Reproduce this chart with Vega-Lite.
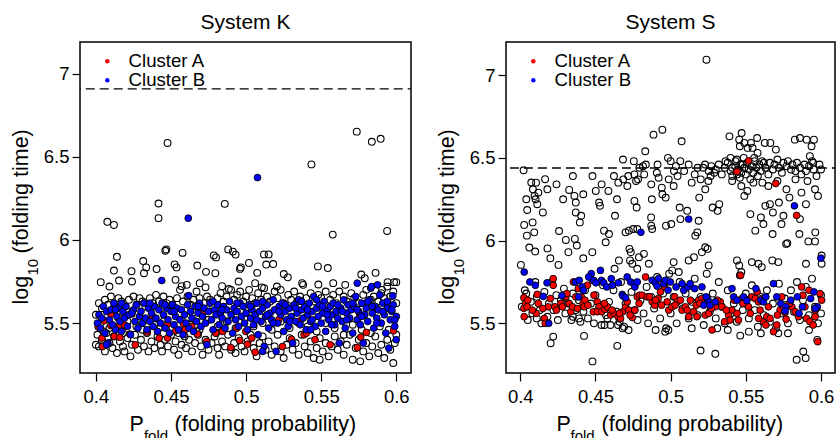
{
"$schema":"https://vega.github.io/schema/vega-lite/v6.json",
"padding":{"left":9,"top":11,"right":0,"bottom":0},
"config":{"font":"Liberation Sans","view":{"stroke":"black","strokeWidth":1.5},
"axis":{"grid":false,"domain":false,"labelColor":"black","tickColor":"black","titleColor":"black","titleFontWeight":"normal","labelFontSize":18.5,"titleFontSize":21.5,"tickSize":8,"tickWidth":1.2},
"title":{"fontSize":21,"fontWeight":"normal","color":"black"}},
"bounds":"flush",
"spacing":95,
"resolve":{"scale":{"x":"independent","y":"independent","fill":"independent"},"legend":{"fill":"independent"}},
"datasets":{
"K":[
{"x":0.400,"y":5.37,"c":"O"},{"x":0.401,"y":5.43,"c":"O"},{"x":0.402,"y":5.36,"c":"O"},{"x":0.404,"y":5.40,"c":"O"},{"x":0.406,"y":5.33,"c":"O"},{"x":0.407,"y":5.44,"c":"O"},{"x":0.409,"y":5.38,"c":"O"},{"x":0.411,"y":5.35,"c":"O"},{"x":0.412,"y":5.42,"c":"O"},{"x":0.414,"y":5.32,"c":"O"},
{"x":0.416,"y":5.39,"c":"O"},{"x":0.418,"y":5.36,"c":"O"},{"x":0.419,"y":5.33,"c":"O"},{"x":0.421,"y":5.41,"c":"O"},{"x":0.423,"y":5.30,"c":"O"},{"x":0.424,"y":5.37,"c":"O"},{"x":0.426,"y":5.43,"c":"O"},{"x":0.428,"y":5.34,"c":"O"},{"x":0.430,"y":5.40,"c":"O"},{"x":0.432,"y":5.36,"c":"O"},
{"x":0.434,"y":5.44,"c":"O"},{"x":0.435,"y":5.33,"c":"O"},{"x":0.437,"y":5.39,"c":"O"},{"x":0.439,"y":5.35,"c":"O"},{"x":0.441,"y":5.42,"c":"O"},{"x":0.443,"y":5.37,"c":"O"},{"x":0.444,"y":5.33,"c":"O"},{"x":0.446,"y":5.40,"c":"O"},{"x":0.448,"y":5.36,"c":"O"},{"x":0.450,"y":5.43,"c":"O"},
{"x":0.452,"y":5.34,"c":"O"},{"x":0.453,"y":5.39,"c":"O"},{"x":0.455,"y":5.31,"c":"O"},{"x":0.457,"y":5.37,"c":"O"},{"x":0.459,"y":5.42,"c":"O"},{"x":0.460,"y":5.35,"c":"O"},{"x":0.462,"y":5.40,"c":"O"},{"x":0.464,"y":5.33,"c":"O"},{"x":0.466,"y":5.38,"c":"O"},{"x":0.468,"y":5.43,"c":"O"},
{"x":0.470,"y":5.36,"c":"O"},{"x":0.471,"y":5.31,"c":"O"},{"x":0.473,"y":5.40,"c":"O"},{"x":0.475,"y":5.34,"c":"O"},{"x":0.477,"y":5.38,"c":"O"},{"x":0.479,"y":5.42,"c":"O"},{"x":0.481,"y":5.35,"c":"O"},{"x":0.482,"y":5.31,"c":"O"},{"x":0.484,"y":5.39,"c":"O"},{"x":0.486,"y":5.36,"c":"O"},
{"x":0.488,"y":5.43,"c":"O"},{"x":0.490,"y":5.34,"c":"O"},{"x":0.492,"y":5.38,"c":"O"},{"x":0.493,"y":5.32,"c":"O"},{"x":0.495,"y":5.41,"c":"O"},{"x":0.497,"y":5.36,"c":"O"},{"x":0.499,"y":5.33,"c":"O"},{"x":0.501,"y":5.39,"c":"O"},{"x":0.503,"y":5.43,"c":"O"},{"x":0.505,"y":5.35,"c":"O"},
{"x":0.507,"y":5.30,"c":"O"},{"x":0.509,"y":5.38,"c":"O"},{"x":0.511,"y":5.42,"c":"O"},{"x":0.513,"y":5.34,"c":"O"},{"x":0.515,"y":5.39,"c":"O"},{"x":0.517,"y":5.31,"c":"O"},{"x":0.519,"y":5.36,"c":"O"},{"x":0.521,"y":5.43,"c":"O"},{"x":0.523,"y":5.33,"c":"O"},{"x":0.525,"y":5.29,"c":"O"},
{"x":0.527,"y":5.37,"c":"O"},{"x":0.529,"y":5.41,"c":"O"},{"x":0.531,"y":5.34,"c":"O"},{"x":0.533,"y":5.38,"c":"O"},{"x":0.535,"y":5.31,"c":"O"},{"x":0.537,"y":5.43,"c":"O"},{"x":0.539,"y":5.36,"c":"O"},{"x":0.541,"y":5.32,"c":"O"},{"x":0.543,"y":5.39,"c":"O"},{"x":0.545,"y":5.29,"c":"O"},
{"x":0.547,"y":5.35,"c":"O"},{"x":0.549,"y":5.41,"c":"O"},{"x":0.551,"y":5.33,"c":"O"},{"x":0.553,"y":5.38,"c":"O"},{"x":0.555,"y":5.30,"c":"O"},{"x":0.557,"y":5.36,"c":"O"},{"x":0.559,"y":5.42,"c":"O"},{"x":0.561,"y":5.34,"c":"O"},{"x":0.563,"y":5.39,"c":"O"},{"x":0.565,"y":5.31,"c":"O"},
{"x":0.567,"y":5.37,"c":"O"},{"x":0.569,"y":5.43,"c":"O"},{"x":0.571,"y":5.28,"c":"O"},{"x":0.573,"y":5.35,"c":"O"},{"x":0.575,"y":5.40,"c":"O"},{"x":0.576,"y":5.27,"c":"O"},{"x":0.578,"y":5.33,"c":"O"},{"x":0.580,"y":5.38,"c":"O"},{"x":0.582,"y":5.30,"c":"O"},{"x":0.584,"y":5.36,"c":"O"},
{"x":0.586,"y":5.42,"c":"O"},{"x":0.588,"y":5.32,"c":"O"},{"x":0.590,"y":5.37,"c":"O"},{"x":0.592,"y":5.29,"c":"O"},{"x":0.594,"y":5.40,"c":"O"},{"x":0.596,"y":5.34,"c":"O"},{"x":0.598,"y":5.26,"c":"O"},{"x":0.599,"y":5.38,"c":"O"},{"x":0.600,"y":5.43,"c":"O"},{"x":0.549,"y":5.28,"c":"O"},
{"x":0.400,"y":5.55,"c":"O"},{"x":0.402,"y":5.62,"c":"O"},{"x":0.404,"y":5.59,"c":"O"},{"x":0.406,"y":5.64,"c":"O"},{"x":0.408,"y":5.61,"c":"O"},{"x":0.410,"y":5.66,"c":"O"},{"x":0.413,"y":5.60,"c":"O"},{"x":0.415,"y":5.65,"c":"O"},{"x":0.417,"y":5.63,"c":"O"},{"x":0.420,"y":5.58,"c":"O"},
{"x":0.422,"y":5.64,"c":"O"},{"x":0.425,"y":5.66,"c":"O"},{"x":0.427,"y":5.61,"c":"O"},{"x":0.429,"y":5.65,"c":"O"},{"x":0.431,"y":5.63,"c":"O"},{"x":0.433,"y":5.60,"c":"O"},{"x":0.436,"y":5.65,"c":"O"},{"x":0.438,"y":5.62,"c":"O"},{"x":0.440,"y":5.67,"c":"O"},{"x":0.442,"y":5.63,"c":"O"},
{"x":0.445,"y":5.66,"c":"O"},{"x":0.447,"y":5.62,"c":"O"},{"x":0.449,"y":5.64,"c":"O"},{"x":0.451,"y":5.61,"c":"O"},{"x":0.454,"y":5.65,"c":"O"},{"x":0.456,"y":5.70,"c":"O"},{"x":0.458,"y":5.63,"c":"O"},{"x":0.461,"y":5.66,"c":"O"},{"x":0.463,"y":5.61,"c":"O"},{"x":0.465,"y":5.64,"c":"O"},
{"x":0.467,"y":5.69,"c":"O"},{"x":0.469,"y":5.65,"c":"O"},{"x":0.472,"y":5.62,"c":"O"},{"x":0.474,"y":5.66,"c":"O"},{"x":0.476,"y":5.64,"c":"O"},{"x":0.478,"y":5.60,"c":"O"},{"x":0.481,"y":5.65,"c":"O"},{"x":0.483,"y":5.68,"c":"O"},{"x":0.485,"y":5.63,"c":"O"},{"x":0.487,"y":5.66,"c":"O"},
{"x":0.490,"y":5.70,"c":"O"},{"x":0.492,"y":5.64,"c":"O"},{"x":0.494,"y":5.67,"c":"O"},{"x":0.496,"y":5.69,"c":"O"},{"x":0.498,"y":5.63,"c":"O"},{"x":0.500,"y":5.66,"c":"O"},{"x":0.502,"y":5.70,"c":"O"},{"x":0.504,"y":5.65,"c":"O"},{"x":0.506,"y":5.62,"c":"O"},{"x":0.508,"y":5.68,"c":"O"},
{"x":0.510,"y":5.64,"c":"O"},{"x":0.512,"y":5.71,"c":"O"},{"x":0.514,"y":5.66,"c":"O"},{"x":0.516,"y":5.63,"c":"O"},{"x":0.519,"y":5.69,"c":"O"},{"x":0.521,"y":5.65,"c":"O"},{"x":0.523,"y":5.70,"c":"O"},{"x":0.525,"y":5.62,"c":"O"},{"x":0.528,"y":5.67,"c":"O"},{"x":0.530,"y":5.64,"c":"O"},
{"x":0.532,"y":5.69,"c":"O"},{"x":0.534,"y":5.63,"c":"O"},{"x":0.536,"y":5.66,"c":"O"},{"x":0.538,"y":5.73,"c":"O"},{"x":0.540,"y":5.65,"c":"O"},{"x":0.543,"y":5.68,"c":"O"},{"x":0.546,"y":5.63,"c":"O"},{"x":0.548,"y":5.67,"c":"O"},{"x":0.550,"y":5.65,"c":"O"},{"x":0.553,"y":5.69,"c":"O"},
{"x":0.556,"y":5.64,"c":"O"},{"x":0.558,"y":5.67,"c":"O"},{"x":0.560,"y":5.62,"c":"O"},{"x":0.562,"y":5.69,"c":"O"},{"x":0.565,"y":5.66,"c":"O"},{"x":0.567,"y":5.63,"c":"O"},{"x":0.570,"y":5.68,"c":"O"},{"x":0.572,"y":5.65,"c":"O"},{"x":0.575,"y":5.62,"c":"O"},{"x":0.578,"y":5.67,"c":"O"},
{"x":0.580,"y":5.70,"c":"O"},{"x":0.583,"y":5.64,"c":"O"},{"x":0.585,"y":5.66,"c":"O"},{"x":0.588,"y":5.63,"c":"O"},{"x":0.590,"y":5.68,"c":"O"},{"x":0.592,"y":5.65,"c":"O"},{"x":0.594,"y":5.72,"c":"O"},{"x":0.596,"y":5.66,"c":"O"},{"x":0.598,"y":5.69,"c":"O"},{"x":0.600,"y":5.62,"c":"O"},
{"x":0.403,"y":5.50,"c":"O"},{"x":0.409,"y":5.47,"c":"O"},{"x":0.415,"y":5.53,"c":"O"},{"x":0.421,"y":5.51,"c":"O"},{"x":0.427,"y":5.48,"c":"O"},{"x":0.433,"y":5.52,"c":"O"},{"x":0.439,"y":5.49,"c":"O"},{"x":0.445,"y":5.51,"c":"O"},{"x":0.451,"y":5.47,"c":"O"},{"x":0.457,"y":5.52,"c":"O"},
{"x":0.463,"y":5.49,"c":"O"},{"x":0.469,"y":5.46,"c":"O"},{"x":0.475,"y":5.52,"c":"O"},{"x":0.481,"y":5.48,"c":"O"},{"x":0.487,"y":5.51,"c":"O"},{"x":0.493,"y":5.47,"c":"O"},{"x":0.499,"y":5.53,"c":"O"},{"x":0.505,"y":5.48,"c":"O"},{"x":0.511,"y":5.50,"c":"O"},{"x":0.517,"y":5.46,"c":"O"},
{"x":0.523,"y":5.51,"c":"O"},{"x":0.529,"y":5.47,"c":"O"},{"x":0.535,"y":5.50,"c":"O"},{"x":0.541,"y":5.48,"c":"O"},{"x":0.547,"y":5.45,"c":"O"},{"x":0.553,"y":5.50,"c":"O"},{"x":0.559,"y":5.47,"c":"O"},{"x":0.565,"y":5.43,"c":"O"},{"x":0.571,"y":5.49,"c":"O"},{"x":0.577,"y":5.46,"c":"O"},
{"x":0.583,"y":5.44,"c":"O"},{"x":0.589,"y":5.48,"c":"O"},{"x":0.595,"y":5.46,"c":"O"},{"x":0.405,"y":5.45,"c":"O"},{"x":0.418,"y":5.44,"c":"O"},{"x":0.431,"y":5.46,"c":"O"},{"x":0.442,"y":5.47,"c":"O"},{"x":0.455,"y":5.44,"c":"O"},{"x":0.467,"y":5.45,"c":"O"},{"x":0.480,"y":5.44,"c":"O"},
{"x":0.4477,"y":6.583,"c":"O"},{"x":0.5737,"y":6.651,"c":"O"},{"x":0.5837,"y":6.590,"c":"O"},{"x":0.5896,"y":6.608,"c":"O"},{"x":0.5435,"y":6.454,"c":"O"},{"x":0.4417,"y":6.219,"c":"O"},{"x":0.4858,"y":6.217,"c":"O"},{"x":0.4417,"y":6.131,"c":"O"},{"x":0.4076,"y":6.109,"c":"O"},{"x":0.4120,"y":6.090,"c":"O"},
{"x":0.5939,"y":6.054,"c":"O"},{"x":0.5577,"y":6.032,"c":"O"},{"x":0.4469,"y":5.943,"c":"O"},{"x":0.4462,"y":5.935,"c":"O"},{"x":0.4577,"y":5.922,"c":"O"},{"x":0.4140,"y":5.899,"c":"O"},{"x":0.4785,"y":5.907,"c":"O"},{"x":0.4800,"y":5.895,"c":"O"},{"x":0.4881,"y":5.943,"c":"O"},{"x":0.4912,"y":5.930,"c":"O"},
{"x":0.4930,"y":5.912,"c":"O"},{"x":0.5119,"y":5.913,"c":"O"},{"x":0.5150,"y":5.913,"c":"O"},{"x":0.4959,"y":5.826,"c":"O"},{"x":0.4965,"y":5.835,"c":"O"},{"x":0.5019,"y":5.862,"c":"O"},{"x":0.5074,"y":5.802,"c":"O"},{"x":0.5134,"y":5.852,"c":"O"},{"x":0.5180,"y":5.855,"c":"O"},{"x":0.5251,"y":5.795,"c":"O"},
{"x":0.4120,"y":5.816,"c":"O"},{"x":0.4237,"y":5.812,"c":"O"},{"x":0.4315,"y":5.873,"c":"O"},{"x":0.4335,"y":5.835,"c":"O"},{"x":0.4404,"y":5.825,"c":"O"},{"x":0.4524,"y":5.853,"c":"O"},{"x":0.4537,"y":5.835,"c":"O"},{"x":0.4675,"y":5.846,"c":"O"},{"x":0.4733,"y":5.808,"c":"O"},{"x":0.4795,"y":5.800,"c":"O"},
{"x":0.4032,"y":5.746,"c":"O"},{"x":0.4154,"y":5.756,"c":"O"},{"x":0.4320,"y":5.800,"c":"O"},{"x":0.5478,"y":5.841,"c":"O"},{"x":0.5544,"y":5.831,"c":"O"},{"x":0.5862,"y":5.802,"c":"O"},{"x":0.5767,"y":5.792,"c":"O"},{"x":0.5942,"y":5.746,"c":"O"},{"x":0.5985,"y":5.746,"c":"O"},{"x":0.6000,"y":5.746,"c":"O"},
{"x":0.5278,"y":5.775,"c":"O"},{"x":0.5373,"y":5.740,"c":"O"},{"x":0.5481,"y":5.732,"c":"O"},{"x":0.5580,"y":5.740,"c":"O"},{"x":0.4571,"y":5.722,"c":"O"},{"x":0.4605,"y":5.730,"c":"O"},{"x":0.4730,"y":5.715,"c":"O"},{"x":0.4950,"y":5.750,"c":"O"},{"x":0.5060,"y":5.740,"c":"O"},{"x":0.5105,"y":5.715,"c":"O"},
{"x":0.4691,"y":5.740,"c":"O"},{"x":0.4840,"y":5.722,"c":"O"},{"x":0.4885,"y":5.705,"c":"O"},{"x":0.4530,"y":5.760,"c":"O"},{"x":0.4240,"y":5.750,"c":"O"},{"x":0.4090,"y":5.720,"c":"O"},{"x":0.5205,"y":5.720,"c":"O"},{"x":0.5660,"y":5.730,"c":"O"},{"x":0.5790,"y":5.770,"c":"O"},{"x":0.5905,"y":5.700,"c":"O"},
{"x":0.4015,"y":5.477,"c":"A"},{"x":0.4040,"y":5.41,"c":"A"},{"x":0.4044,"y":5.359,"c":"A"},{"x":0.4055,"y":5.514,"c":"A"},{"x":0.4099,"y":5.555,"c":"A"},{"x":0.4099,"y":5.485,"c":"A"},{"x":0.4121,"y":5.42,"c":"A"},{"x":0.4159,"y":5.49,"c":"A"},{"x":0.4159,"y":5.415,"c":"A"},{"x":0.4192,"y":5.488,"c":"A"},
{"x":0.4226,"y":5.434,"c":"A"},{"x":0.4239,"y":5.555,"c":"A"},{"x":0.4262,"y":5.369,"c":"A"},{"x":0.4341,"y":5.446,"c":"A"},{"x":0.4377,"y":5.541,"c":"A"},{"x":0.4421,"y":5.41,"c":"A"},{"x":0.4477,"y":5.495,"c":"A"},{"x":0.4477,"y":5.41,"c":"A"},{"x":0.4532,"y":5.454,"c":"A"},{"x":0.4583,"y":5.495,"c":"A"},
{"x":0.4594,"y":5.46,"c":"A"},{"x":0.4638,"y":5.48,"c":"A"},{"x":0.4676,"y":5.434,"c":"A"},{"x":0.4716,"y":5.571,"c":"A"},{"x":0.4738,"y":5.39,"c":"A"},{"x":0.4798,"y":5.44,"c":"A"},{"x":0.4843,"y":5.45,"c":"A"},{"x":0.4898,"y":5.353,"c":"A"},{"x":0.4938,"y":5.47,"c":"A"},{"x":0.4958,"y":5.396,"c":"A"},
{"x":0.4998,"y":5.45,"c":"A"},{"x":0.5009,"y":5.373,"c":"A"},{"x":0.5038,"y":5.41,"c":"A"},{"x":0.5060,"y":5.325,"c":"A"},{"x":0.5218,"y":5.521,"c":"A"},{"x":0.5242,"y":5.359,"c":"A"},{"x":0.5302,"y":5.403,"c":"A"},{"x":0.5360,"y":5.514,"c":"A"},{"x":0.5386,"y":5.43,"c":"A"},{"x":0.5402,"y":5.44,"c":"A"},
{"x":0.5459,"y":5.40,"c":"A"},{"x":0.5559,"y":5.37,"c":"A"},{"x":0.5757,"y":5.551,"c":"A"},{"x":0.5763,"y":5.415,"c":"A"},{"x":0.5741,"y":5.353,"c":"A"},{"x":0.5801,"y":5.444,"c":"A"},{"x":0.5981,"y":5.454,"c":"A"},
{"x":0.401,"y":5.50,"c":"B"},{"x":0.402,"y":5.55,"c":"B"},{"x":0.403,"y":5.47,"c":"B"},{"x":0.404,"y":5.53,"c":"B"},{"x":0.405,"y":5.60,"c":"B"},{"x":0.406,"y":5.44,"c":"B"},{"x":0.407,"y":5.57,"c":"B"},{"x":0.408,"y":5.38,"c":"B"},{"x":0.409,"y":5.52,"c":"B"},{"x":0.410,"y":5.58,"c":"B"},
{"x":0.411,"y":5.49,"c":"B"},{"x":0.412,"y":5.62,"c":"B"},{"x":0.413,"y":5.46,"c":"B"},{"x":0.414,"y":5.54,"c":"B"},{"x":0.415,"y":5.59,"c":"B"},{"x":0.416,"y":5.51,"c":"B"},{"x":0.417,"y":5.45,"c":"B"},{"x":0.418,"y":5.57,"c":"B"},{"x":0.419,"y":5.53,"c":"B"},{"x":0.420,"y":5.60,"c":"B"},
{"x":0.421,"y":5.48,"c":"B"},{"x":0.422,"y":5.55,"c":"B"},{"x":0.423,"y":5.43,"c":"B"},{"x":0.425,"y":5.58,"c":"B"},{"x":0.426,"y":5.51,"c":"B"},{"x":0.427,"y":5.61,"c":"B"},{"x":0.428,"y":5.47,"c":"B"},{"x":0.429,"y":5.54,"c":"B"},{"x":0.430,"y":5.57,"c":"B"},{"x":0.431,"y":5.50,"c":"B"},
{"x":0.432,"y":5.62,"c":"B"},{"x":0.433,"y":5.53,"c":"B"},{"x":0.434,"y":5.46,"c":"B"},{"x":0.435,"y":5.59,"c":"B"},{"x":0.436,"y":5.51,"c":"B"},{"x":0.437,"y":5.56,"c":"B"},{"x":0.438,"y":5.48,"c":"B"},{"x":0.439,"y":5.60,"c":"B"},{"x":0.440,"y":5.53,"c":"B"},{"x":0.441,"y":5.45,"c":"B"},
{"x":0.442,"y":5.58,"c":"B"},{"x":0.443,"y":5.50,"c":"B"},{"x":0.444,"y":5.62,"c":"B"},{"x":0.445,"y":5.55,"c":"B"},{"x":0.446,"y":5.47,"c":"B"},{"x":0.447,"y":5.59,"c":"B"},{"x":0.448,"y":5.52,"c":"B"},{"x":0.449,"y":5.44,"c":"B"},{"x":0.450,"y":5.57,"c":"B"},{"x":0.451,"y":5.61,"c":"B"},
{"x":0.452,"y":5.49,"c":"B"},{"x":0.453,"y":5.54,"c":"B"},{"x":0.454,"y":5.59,"c":"B"},{"x":0.455,"y":5.46,"c":"B"},{"x":0.456,"y":5.52,"c":"B"},{"x":0.457,"y":5.58,"c":"B"},{"x":0.458,"y":5.43,"c":"B"},{"x":0.459,"y":5.55,"c":"B"},{"x":0.460,"y":5.50,"c":"B"},{"x":0.461,"y":5.61,"c":"B"},
{"x":0.462,"y":5.47,"c":"B"},{"x":0.463,"y":5.57,"c":"B"},{"x":0.464,"y":5.53,"c":"B"},{"x":0.465,"y":5.45,"c":"B"},{"x":0.466,"y":5.60,"c":"B"},{"x":0.467,"y":5.51,"c":"B"},{"x":0.468,"y":5.56,"c":"B"},{"x":0.469,"y":5.62,"c":"B"},{"x":0.470,"y":5.48,"c":"B"},{"x":0.471,"y":5.54,"c":"B"},
{"x":0.472,"y":5.59,"c":"B"},{"x":0.473,"y":5.50,"c":"B"},{"x":0.474,"y":5.37,"c":"B"},{"x":0.475,"y":5.57,"c":"B"},{"x":0.476,"y":5.62,"c":"B"},{"x":0.477,"y":5.52,"c":"B"},{"x":0.478,"y":5.46,"c":"B"},{"x":0.479,"y":5.58,"c":"B"},{"x":0.480,"y":5.55,"c":"B"},{"x":0.481,"y":5.61,"c":"B"},
{"x":0.482,"y":5.49,"c":"B"},{"x":0.483,"y":5.56,"c":"B"},{"x":0.484,"y":5.53,"c":"B"},{"x":0.485,"y":5.60,"c":"B"},{"x":0.486,"y":5.47,"c":"B"},{"x":0.487,"y":5.58,"c":"B"},{"x":0.488,"y":5.51,"c":"B"},{"x":0.489,"y":5.63,"c":"B"},{"x":0.490,"y":5.55,"c":"B"},{"x":0.491,"y":5.44,"c":"B"},
{"x":0.492,"y":5.59,"c":"B"},{"x":0.493,"y":5.52,"c":"B"},{"x":0.494,"y":5.57,"c":"B"},{"x":0.495,"y":5.48,"c":"B"},{"x":0.496,"y":5.62,"c":"B"},{"x":0.497,"y":5.54,"c":"B"},{"x":0.498,"y":5.60,"c":"B"},{"x":0.499,"y":5.50,"c":"B"},{"x":0.500,"y":5.56,"c":"B"},{"x":0.501,"y":5.46,"c":"B"},
{"x":0.502,"y":5.61,"c":"B"},{"x":0.503,"y":5.53,"c":"B"},{"x":0.504,"y":5.58,"c":"B"},{"x":0.505,"y":5.49,"c":"B"},{"x":0.506,"y":5.55,"c":"B"},{"x":0.507,"y":5.62,"c":"B"},{"x":0.508,"y":5.43,"c":"B"},{"x":0.509,"y":5.57,"c":"B"},{"x":0.510,"y":5.51,"c":"B"},{"x":0.511,"y":5.59,"c":"B"},
{"x":0.512,"y":5.36,"c":"B"},{"x":0.513,"y":5.54,"c":"B"},{"x":0.514,"y":5.61,"c":"B"},{"x":0.515,"y":5.47,"c":"B"},{"x":0.516,"y":5.56,"c":"B"},{"x":0.517,"y":5.52,"c":"B"},{"x":0.518,"y":5.64,"c":"B"},{"x":0.519,"y":5.58,"c":"B"},{"x":0.520,"y":5.33,"c":"B"},{"x":0.521,"y":5.50,"c":"B"},
{"x":0.522,"y":5.60,"c":"B"},{"x":0.523,"y":5.55,"c":"B"},{"x":0.524,"y":5.62,"c":"B"},{"x":0.525,"y":5.45,"c":"B"},{"x":0.526,"y":5.57,"c":"B"},{"x":0.527,"y":5.52,"c":"B"},{"x":0.528,"y":5.48,"c":"B"},{"x":0.529,"y":5.59,"c":"B"},{"x":0.530,"y":5.54,"c":"B"},{"x":0.531,"y":5.38,"c":"B"},
{"x":0.532,"y":5.61,"c":"B"},{"x":0.533,"y":5.51,"c":"B"},{"x":0.534,"y":5.56,"c":"B"},{"x":0.535,"y":5.64,"c":"B"},{"x":0.536,"y":5.49,"c":"B"},{"x":0.537,"y":5.58,"c":"B"},{"x":0.538,"y":5.53,"c":"B"},{"x":0.539,"y":5.60,"c":"B"},{"x":0.540,"y":5.46,"c":"B"},{"x":0.541,"y":5.55,"c":"B"},
{"x":0.542,"y":5.62,"c":"B"},{"x":0.543,"y":5.51,"c":"B"},{"x":0.544,"y":5.57,"c":"B"},{"x":0.545,"y":5.66,"c":"B"},{"x":0.546,"y":5.48,"c":"B"},{"x":0.547,"y":5.59,"c":"B"},{"x":0.548,"y":5.54,"c":"B"},{"x":0.549,"y":5.61,"c":"B"},{"x":0.550,"y":5.50,"c":"B"},{"x":0.551,"y":5.56,"c":"B"},
{"x":0.552,"y":5.63,"c":"B"},{"x":0.553,"y":5.45,"c":"B"},{"x":0.554,"y":5.58,"c":"B"},{"x":0.555,"y":5.52,"c":"B"},{"x":0.556,"y":5.60,"c":"B"},{"x":0.557,"y":5.55,"c":"B"},{"x":0.558,"y":5.62,"c":"B"},{"x":0.559,"y":5.49,"c":"B"},{"x":0.560,"y":5.57,"c":"B"},{"x":0.561,"y":5.53,"c":"B"},
{"x":0.562,"y":5.38,"c":"B"},{"x":0.563,"y":5.59,"c":"B"},{"x":0.564,"y":5.51,"c":"B"},{"x":0.565,"y":5.64,"c":"B"},{"x":0.566,"y":5.47,"c":"B"},{"x":0.567,"y":5.56,"c":"B"},{"x":0.568,"y":5.61,"c":"B"},{"x":0.569,"y":5.53,"c":"B"},{"x":0.570,"y":5.58,"c":"B"},{"x":0.571,"y":5.44,"c":"B"},
{"x":0.572,"y":5.60,"c":"B"},{"x":0.573,"y":5.66,"c":"B"},{"x":0.574,"y":5.52,"c":"B"},{"x":0.575,"y":5.57,"c":"B"},{"x":0.576,"y":5.49,"c":"B"},{"x":0.577,"y":5.62,"c":"B"},{"x":0.578,"y":5.38,"c":"B"},{"x":0.579,"y":5.55,"c":"B"},{"x":0.580,"y":5.59,"c":"B"},{"x":0.581,"y":5.51,"c":"B"},
{"x":0.582,"y":5.64,"c":"B"},{"x":0.583,"y":5.71,"c":"B"},{"x":0.584,"y":5.56,"c":"B"},{"x":0.585,"y":5.47,"c":"B"},{"x":0.586,"y":5.60,"c":"B"},{"x":0.587,"y":5.53,"c":"B"},{"x":0.588,"y":5.58,"c":"B"},{"x":0.589,"y":5.67,"c":"B"},{"x":0.590,"y":5.50,"c":"B"},{"x":0.591,"y":5.62,"c":"B"},
{"x":0.592,"y":5.55,"c":"B"},{"x":0.593,"y":5.44,"c":"B"},{"x":0.594,"y":5.59,"c":"B"},{"x":0.595,"y":5.35,"c":"B"},{"x":0.596,"y":5.52,"c":"B"},{"x":0.597,"y":5.57,"c":"B"},{"x":0.598,"y":5.61,"c":"B"},{"x":0.599,"y":5.48,"c":"B"},{"x":0.600,"y":5.54,"c":"B"},{"x":0.600,"y":5.40,"c":"B"},
{"x":0.503,"y":5.60,"c":"B"},{"x":0.507,"y":5.52,"c":"B"},{"x":0.511,"y":5.63,"c":"B"},{"x":0.514,"y":5.55,"c":"B"},{"x":0.518,"y":5.50,"c":"B"},{"x":0.522,"y":5.57,"c":"B"},{"x":0.526,"y":5.61,"c":"B"},{"x":0.529,"y":5.51,"c":"B"},{"x":0.533,"y":5.59,"c":"B"},{"x":0.537,"y":5.63,"c":"B"},
{"x":0.541,"y":5.58,"c":"B"},{"x":0.544,"y":5.52,"c":"B"},{"x":0.547,"y":5.64,"c":"B"},{"x":0.551,"y":5.60,"c":"B"},{"x":0.554,"y":5.55,"c":"B"},{"x":0.557,"y":5.49,"c":"B"},{"x":0.561,"y":5.61,"c":"B"},{"x":0.564,"y":5.57,"c":"B"},{"x":0.567,"y":5.52,"c":"B"},{"x":0.571,"y":5.62,"c":"B"},
{"x":0.574,"y":5.58,"c":"B"},{"x":0.577,"y":5.54,"c":"B"},{"x":0.581,"y":5.63,"c":"B"},{"x":0.584,"y":5.60,"c":"B"},{"x":0.587,"y":5.50,"c":"B"},{"x":0.591,"y":5.57,"c":"B"},{"x":0.594,"y":5.63,"c":"B"},{"x":0.597,"y":5.58,"c":"B"},{"x":0.599,"y":5.52,"c":"B"},{"x":0.543,"y":5.46,"c":"B"},
{"x":0.413,"y":5.58,"c":"B"},{"x":0.417,"y":5.62,"c":"B"},{"x":0.424,"y":5.56,"c":"B"},{"x":0.436,"y":5.62,"c":"B"},{"x":0.446,"y":5.61,"c":"B"},{"x":0.452,"y":5.57,"c":"B"},{"x":0.468,"y":5.60,"c":"B"},{"x":0.478,"y":5.63,"c":"B"},{"x":0.484,"y":5.58,"c":"B"},{"x":0.494,"y":5.62,"c":"B"},
{"x":0.5076,"y":6.375,"c":"B"},{"x":0.4615,"y":6.131,"c":"B"},{"x":0.4438,"y":5.756,"c":"B"},{"x":0.4618,"y":5.665,"c":"B"},{"x":0.5740,"y":5.74,"c":"B"},{"x":0.5836,"y":5.72,"c":"B"},{"x":0.5875,"y":5.73,"c":"B"},{"x":0.5977,"y":5.664,"c":"B"},{"x":0.407,"y":5.37,"c":"B"},{"x":0.511,"y":5.33,"c":"B"}
],
"S":[
{"x":0.4022,"y":6.425,"c":"O"},{"x":0.4073,"y":6.351,"c":"O"},{"x":0.4084,"y":6.31,"c":"O"},{"x":0.4095,"y":6.27,"c":"O"},{"x":0.4102,"y":6.25,"c":"O"},{"x":0.4113,"y":6.22,"c":"O"},{"x":0.4046,"y":6.185,"c":"O"},{"x":0.4040,"y":6.25,"c":"O"},{"x":0.4120,"y":6.29,"c":"O"},{"x":0.4165,"y":6.371,"c":"O"},
{"x":0.4180,"y":6.31,"c":"O"},{"x":0.4105,"y":6.35,"c":"O"},{"x":0.4241,"y":6.34,"c":"O"},{"x":0.4285,"y":6.25,"c":"O"},{"x":0.4325,"y":6.306,"c":"O"},{"x":0.4350,"y":6.39,"c":"O"},{"x":0.4360,"y":6.27,"c":"O"},{"x":0.4369,"y":6.23,"c":"O"},{"x":0.4419,"y":6.28,"c":"O"},{"x":0.4369,"y":6.17,"c":"O"},
{"x":0.4480,"y":6.39,"c":"O"},{"x":0.4502,"y":6.30,"c":"O"},{"x":0.4524,"y":6.23,"c":"O"},{"x":0.4530,"y":6.21,"c":"O"},{"x":0.4541,"y":6.34,"c":"O"},{"x":0.4586,"y":6.30,"c":"O"},{"x":0.4623,"y":6.39,"c":"O"},{"x":0.4643,"y":6.25,"c":"O"},{"x":0.4652,"y":6.35,"c":"O"},{"x":0.4683,"y":6.49,"c":"O"},
{"x":0.4685,"y":6.37,"c":"O"},{"x":0.4712,"y":6.33,"c":"O"},{"x":0.4718,"y":6.39,"c":"O"},{"x":0.4755,"y":6.48,"c":"O"},{"x":0.4759,"y":6.40,"c":"O"},{"x":0.4770,"y":6.36,"c":"O"},{"x":0.4783,"y":6.37,"c":"O"},{"x":0.4759,"y":6.24,"c":"O"},{"x":0.4774,"y":6.20,"c":"O"},{"x":0.4792,"y":6.44,"c":"O"},
{"x":0.4816,"y":6.45,"c":"O"},{"x":0.4831,"y":6.54,"c":"O"},{"x":0.4835,"y":6.46,"c":"O"},{"x":0.4824,"y":6.40,"c":"O"},{"x":0.4886,"y":6.64,"c":"O"},{"x":0.4945,"y":6.67,"c":"O"},{"x":0.4913,"y":6.46,"c":"O"},{"x":0.4908,"y":6.41,"c":"O"},{"x":0.4920,"y":6.38,"c":"O"},{"x":0.4871,"y":6.34,"c":"O"},
{"x":0.4941,"y":6.32,"c":"O"},{"x":0.4945,"y":6.28,"c":"O"},{"x":0.4875,"y":6.25,"c":"O"},{"x":0.4967,"y":6.26,"c":"O"},{"x":0.4982,"y":6.50,"c":"O"},{"x":0.5000,"y":6.48,"c":"O"},{"x":0.5022,"y":6.42,"c":"O"},{"x":0.5035,"y":6.45,"c":"O"},{"x":0.5046,"y":6.39,"c":"O"},{"x":0.5064,"y":6.48,"c":"O"},
{"x":0.5073,"y":6.60,"c":"O"},{"x":0.5020,"y":6.33,"c":"O"},{"x":0.4987,"y":6.37,"c":"O"},{"x":0.5216,"y":6.44,"c":"O"},{"x":0.5229,"y":6.46,"c":"O"},{"x":0.5253,"y":6.42,"c":"O"},{"x":0.5266,"y":6.39,"c":"O"},{"x":0.5251,"y":6.36,"c":"O"},{"x":0.5279,"y":6.20,"c":"O"},{"x":0.5323,"y":6.22,"c":"O"},
{"x":0.5312,"y":6.18,"c":"O"},{"x":0.5391,"y":6.63,"c":"O"},{"x":0.5365,"y":6.48,"c":"O"},{"x":0.5398,"y":6.50,"c":"O"},{"x":0.5409,"y":6.44,"c":"O"},{"x":0.5431,"y":6.48,"c":"O"},{"x":0.5409,"y":6.36,"c":"O"},{"x":0.5442,"y":6.40,"c":"O"},{"x":0.5464,"y":6.46,"c":"O"},{"x":0.5486,"y":6.50,"c":"O"},
{"x":0.5456,"y":6.61,"c":"O"},{"x":0.5472,"y":6.65,"c":"O"},{"x":0.5460,"y":6.57,"c":"O"},{"x":0.5490,"y":6.59,"c":"O"},{"x":0.5512,"y":6.56,"c":"O"},{"x":0.5534,"y":6.59,"c":"O"},{"x":0.5545,"y":6.56,"c":"O"},{"x":0.5556,"y":6.50,"c":"O"},{"x":0.5578,"y":6.53,"c":"O"},{"x":0.5575,"y":6.62,"c":"O"},
{"x":0.5608,"y":6.48,"c":"O"},{"x":0.5626,"y":6.59,"c":"O"},{"x":0.5663,"y":6.59,"c":"O"},{"x":0.5700,"y":6.55,"c":"O"},{"x":0.5826,"y":6.61,"c":"O"},{"x":0.5860,"y":6.62,"c":"O"},{"x":0.5904,"y":6.61,"c":"O"},{"x":0.5953,"y":6.61,"c":"O"},{"x":0.5937,"y":6.57,"c":"O"},{"x":0.5926,"y":6.51,"c":"O"},
{"x":0.5948,"y":6.47,"c":"O"},{"x":0.6000,"y":6.43,"c":"O"},{"x":0.5238,"y":7.093,"c":"O"},
{"x":0.530,"y":6.43,"c":"O"},{"x":0.532,"y":6.46,"c":"O"},{"x":0.534,"y":6.40,"c":"O"},{"x":0.536,"y":6.44,"c":"O"},{"x":0.538,"y":6.47,"c":"O"},{"x":0.540,"y":6.42,"c":"O"},{"x":0.541,"y":6.39,"c":"O"},{"x":0.543,"y":6.45,"c":"O"},{"x":0.544,"y":6.49,"c":"O"},{"x":0.545,"y":6.43,"c":"O"},
{"x":0.546,"y":6.38,"c":"O"},{"x":0.547,"y":6.41,"c":"O"},{"x":0.548,"y":6.46,"c":"O"},{"x":0.549,"y":6.44,"c":"O"},{"x":0.550,"y":6.40,"c":"O"},{"x":0.551,"y":6.47,"c":"O"},{"x":0.552,"y":6.43,"c":"O"},{"x":0.553,"y":6.37,"c":"O"},{"x":0.554,"y":6.45,"c":"O"},{"x":0.555,"y":6.41,"c":"O"},
{"x":0.556,"y":6.48,"c":"O"},{"x":0.557,"y":6.44,"c":"O"},{"x":0.558,"y":6.39,"c":"O"},{"x":0.559,"y":6.46,"c":"O"},{"x":0.560,"y":6.42,"c":"O"},{"x":0.562,"y":6.47,"c":"O"},{"x":0.563,"y":6.44,"c":"O"},{"x":0.565,"y":6.40,"c":"O"},{"x":0.566,"y":6.47,"c":"O"},{"x":0.568,"y":6.43,"c":"O"},
{"x":0.569,"y":6.46,"c":"O"},{"x":0.571,"y":6.49,"c":"O"},{"x":0.572,"y":6.44,"c":"O"},{"x":0.574,"y":6.41,"c":"O"},{"x":0.575,"y":6.47,"c":"O"},{"x":0.577,"y":6.45,"c":"O"},{"x":0.578,"y":6.48,"c":"O"},{"x":0.580,"y":6.43,"c":"O"},{"x":0.581,"y":6.46,"c":"O"},{"x":0.583,"y":6.42,"c":"O"},
{"x":0.584,"y":6.47,"c":"O"},{"x":0.586,"y":6.44,"c":"O"},{"x":0.587,"y":6.40,"c":"O"},{"x":0.589,"y":6.46,"c":"O"},{"x":0.590,"y":6.42,"c":"O"},{"x":0.592,"y":6.45,"c":"O"},{"x":0.594,"y":6.48,"c":"O"},{"x":0.595,"y":6.43,"c":"O"},{"x":0.597,"y":6.39,"c":"O"},{"x":0.599,"y":6.46,"c":"O"},
{"x":0.547,"y":6.33,"c":"O"},{"x":0.551,"y":6.30,"c":"O"},{"x":0.555,"y":6.35,"c":"O"},{"x":0.549,"y":6.27,"c":"O"},{"x":0.561,"y":6.35,"c":"O"},{"x":0.565,"y":6.33,"c":"O"},{"x":0.571,"y":6.36,"c":"O"},{"x":0.577,"y":6.31,"c":"O"},{"x":0.583,"y":6.37,"c":"O"},{"x":0.587,"y":6.29,"c":"O"},
{"x":0.591,"y":6.36,"c":"O"},{"x":0.596,"y":6.31,"c":"O"},{"x":0.598,"y":6.27,"c":"O"},{"x":0.579,"y":6.26,"c":"O"},{"x":0.572,"y":6.23,"c":"O"},{"x":0.566,"y":6.22,"c":"O"},{"x":0.563,"y":6.21,"c":"O"},{"x":0.568,"y":6.17,"c":"O"},{"x":0.575,"y":6.15,"c":"O"},{"x":0.560,"y":6.14,"c":"O"},
{"x":0.590,"y":6.22,"c":"O"},{"x":0.512,"y":6.46,"c":"O"},{"x":0.516,"y":6.40,"c":"O"},{"x":0.518,"y":6.44,"c":"O"},{"x":0.520,"y":6.37,"c":"O"},{"x":0.527,"y":6.45,"c":"O"},{"x":0.529,"y":6.41,"c":"O"},{"x":0.514,"y":6.35,"c":"O"},{"x":0.523,"y":6.31,"c":"O"},{"x":0.509,"y":6.42,"c":"O"},
{"x":0.511,"y":6.18,"c":"O"},{"x":0.506,"y":6.20,"c":"O"},{"x":0.519,"y":6.26,"c":"O"},
{"x":0.4026,"y":6.095,"c":"O"},{"x":0.4044,"y":6.03,"c":"O"},{"x":0.4060,"y":5.958,"c":"O"},{"x":0.4082,"y":6.11,"c":"O"},{"x":0.4093,"y":6.05,"c":"O"},{"x":0.4099,"y":5.934,"c":"O"},{"x":0.4004,"y":5.853,"c":"O"},{"x":0.4181,"y":5.953,"c":"O"},{"x":0.4200,"y":5.893,"c":"O"},{"x":0.4258,"y":6.058,"c":"O"},
{"x":0.4254,"y":5.853,"c":"O"},{"x":0.4303,"y":6.004,"c":"O"},{"x":0.4363,"y":6.01,"c":"O"},{"x":0.4376,"y":5.97,"c":"O"},{"x":0.4320,"y":5.93,"c":"O"},{"x":0.4419,"y":5.893,"c":"O"},{"x":0.4479,"y":5.93,"c":"O"},{"x":0.4396,"y":6.11,"c":"O"},{"x":0.4568,"y":5.99,"c":"O"},{"x":0.4557,"y":6.06,"c":"O"},
{"x":0.4590,"y":6.04,"c":"O"},{"x":0.4656,"y":5.88,"c":"O"},{"x":0.4627,"y":5.83,"c":"O"},{"x":0.4700,"y":6.05,"c":"O"},{"x":0.4722,"y":6.06,"c":"O"},{"x":0.4751,"y":6.07,"c":"O"},{"x":0.4778,"y":6.07,"c":"O"},{"x":0.4726,"y":5.95,"c":"O"},{"x":0.4735,"y":5.93,"c":"O"},{"x":0.4730,"y":5.88,"c":"O"},
{"x":0.4745,"y":5.86,"c":"O"},{"x":0.4778,"y":5.83,"c":"O"},{"x":0.4789,"y":5.90,"c":"O"},{"x":0.4822,"y":5.92,"c":"O"},{"x":0.4855,"y":5.86,"c":"O"},{"x":0.4871,"y":6.09,"c":"O"},{"x":0.4877,"y":6.07,"c":"O"},{"x":0.4969,"y":6.09,"c":"O"},{"x":0.5004,"y":6.10,"c":"O"},{"x":0.5020,"y":5.87,"c":"O"},
{"x":0.5010,"y":5.82,"c":"O"},{"x":0.5054,"y":5.81,"c":"O"},{"x":0.5120,"y":5.88,"c":"O"},{"x":0.5155,"y":5.90,"c":"O"},{"x":0.5177,"y":6.05,"c":"O"},{"x":0.5164,"y":6.03,"c":"O"},{"x":0.5208,"y":5.93,"c":"O"},{"x":0.5230,"y":5.96,"c":"O"},{"x":0.5246,"y":5.95,"c":"O"},{"x":0.5253,"y":5.85,"c":"O"},
{"x":0.5441,"y":5.88,"c":"O"},{"x":0.5456,"y":5.85,"c":"O"},{"x":0.5470,"y":5.81,"c":"O"},{"x":0.5540,"y":5.87,"c":"O"},{"x":0.5584,"y":5.86,"c":"O"},{"x":0.5606,"y":5.84,"c":"O"},{"x":0.5563,"y":6.06,"c":"O"},{"x":0.5617,"y":6.10,"c":"O"},{"x":0.5676,"y":5.88,"c":"O"},{"x":0.5716,"y":5.87,"c":"O"},
{"x":0.5678,"y":6.04,"c":"O"},{"x":0.5737,"y":6.10,"c":"O"},{"x":0.5768,"y":5.98,"c":"O"},{"x":0.5776,"y":5.985,"c":"O"},{"x":0.5856,"y":6.04,"c":"O"},{"x":0.5900,"y":5.86,"c":"O"},{"x":0.5916,"y":5.995,"c":"O"},{"x":0.5960,"y":5.995,"c":"O"},{"x":0.5962,"y":6.05,"c":"O"},{"x":0.6004,"y":5.91,"c":"O"},
{"x":0.6004,"y":5.86,"c":"O"},{"x":0.4405,"y":6.15,"c":"O"},{"x":0.4630,"y":6.15,"c":"O"},{"x":0.4870,"y":6.14,"c":"O"},{"x":0.5065,"y":6.13,"c":"O"},{"x":0.5186,"y":6.12,"c":"O"},{"x":0.5530,"y":6.16,"c":"O"},{"x":0.5860,"y":6.13,"c":"O"},{"x":0.4150,"y":6.17,"c":"O"},
{"x":0.401,"y":5.60,"c":"O"},{"x":0.403,"y":5.70,"c":"O"},{"x":0.404,"y":5.68,"c":"O"},{"x":0.405,"y":5.52,"c":"O"},{"x":0.407,"y":5.63,"c":"O"},{"x":0.408,"y":5.56,"c":"O"},{"x":0.410,"y":5.75,"c":"O"},{"x":0.411,"y":5.66,"c":"O"},{"x":0.413,"y":5.58,"c":"O"},{"x":0.414,"y":5.50,"c":"O"},
{"x":0.416,"y":5.69,"c":"O"},{"x":0.418,"y":5.54,"c":"O"},{"x":0.419,"y":5.62,"c":"O"},{"x":0.421,"y":5.75,"c":"O"},{"x":0.422,"y":5.58,"c":"O"},{"x":0.424,"y":5.67,"c":"O"},{"x":0.425,"y":5.52,"c":"O"},{"x":0.427,"y":5.64,"c":"O"},{"x":0.429,"y":5.71,"c":"O"},{"x":0.430,"y":5.56,"c":"O"},
{"x":0.432,"y":5.62,"c":"O"},{"x":0.434,"y":5.52,"c":"O"},{"x":0.435,"y":5.68,"c":"O"},{"x":0.437,"y":5.58,"c":"O"},{"x":0.439,"y":5.64,"c":"O"},{"x":0.440,"y":5.51,"c":"O"},{"x":0.442,"y":5.57,"c":"O"},{"x":0.443,"y":5.70,"c":"O"},{"x":0.445,"y":5.53,"c":"O"},{"x":0.447,"y":5.62,"c":"O"},
{"x":0.449,"y":5.50,"c":"O"},{"x":0.450,"y":5.67,"c":"O"},{"x":0.452,"y":5.58,"c":"O"},{"x":0.454,"y":5.49,"c":"O"},{"x":0.455,"y":5.73,"c":"O"},{"x":0.457,"y":5.55,"c":"O"},{"x":0.459,"y":5.63,"c":"O"},{"x":0.460,"y":5.49,"c":"O"},{"x":0.462,"y":5.70,"c":"O"},{"x":0.464,"y":5.57,"c":"O"},
{"x":0.466,"y":5.51,"c":"O"},{"x":0.467,"y":5.75,"c":"O"},{"x":0.469,"y":5.48,"c":"O"},{"x":0.470,"y":5.62,"c":"O"},{"x":0.472,"y":5.46,"c":"O"},{"x":0.474,"y":5.69,"c":"O"},{"x":0.476,"y":5.58,"c":"O"},{"x":0.478,"y":5.52,"c":"O"},{"x":0.480,"y":5.64,"c":"O"},{"x":0.482,"y":5.56,"c":"O"},
{"x":0.484,"y":5.72,"c":"O"},{"x":0.485,"y":5.50,"c":"O"},{"x":0.487,"y":5.66,"c":"O"},{"x":0.489,"y":5.59,"c":"O"},{"x":0.491,"y":5.78,"c":"O"},{"x":0.493,"y":5.53,"c":"O"},{"x":0.495,"y":5.68,"c":"O"},{"x":0.497,"y":5.47,"c":"O"},{"x":0.499,"y":5.80,"c":"O"},{"x":0.500,"y":5.56,"c":"O"},
{"x":0.502,"y":5.66,"c":"O"},{"x":0.504,"y":5.50,"c":"O"},{"x":0.506,"y":5.75,"c":"O"},{"x":0.508,"y":5.59,"c":"O"},{"x":0.510,"y":5.68,"c":"O"},{"x":0.512,"y":5.53,"c":"O"},{"x":0.514,"y":5.63,"c":"O"},{"x":0.516,"y":5.77,"c":"O"},{"x":0.518,"y":5.55,"c":"O"},{"x":0.520,"y":5.66,"c":"O"},
{"x":0.522,"y":5.49,"c":"O"},{"x":0.524,"y":5.80,"c":"O"},{"x":0.526,"y":5.57,"c":"O"},{"x":0.528,"y":5.68,"c":"O"},{"x":0.530,"y":5.53,"c":"O"},{"x":0.532,"y":5.75,"c":"O"},{"x":0.534,"y":5.60,"c":"O"},{"x":0.536,"y":5.50,"c":"O"},{"x":0.538,"y":5.70,"c":"O"},{"x":0.540,"y":5.56,"c":"O"},
{"x":0.542,"y":5.62,"c":"O"},{"x":0.544,"y":5.51,"c":"O"},{"x":0.546,"y":5.79,"c":"O"},{"x":0.548,"y":5.58,"c":"O"},{"x":0.550,"y":5.68,"c":"O"},{"x":0.552,"y":5.53,"c":"O"},{"x":0.554,"y":5.73,"c":"O"},{"x":0.556,"y":5.58,"c":"O"},{"x":0.558,"y":5.48,"c":"O"},{"x":0.560,"y":5.66,"c":"O"},
{"x":0.562,"y":5.55,"c":"O"},{"x":0.564,"y":5.70,"c":"O"},{"x":0.566,"y":5.51,"c":"O"},{"x":0.568,"y":5.62,"c":"O"},{"x":0.570,"y":5.47,"c":"O"},{"x":0.572,"y":5.74,"c":"O"},{"x":0.574,"y":5.56,"c":"O"},{"x":0.576,"y":5.65,"c":"O"},{"x":0.578,"y":5.50,"c":"O"},{"x":0.580,"y":5.70,"c":"O"},
{"x":0.582,"y":5.57,"c":"O"},{"x":0.584,"y":5.75,"c":"O"},{"x":0.586,"y":5.52,"c":"O"},{"x":0.588,"y":5.64,"c":"O"},{"x":0.590,"y":5.72,"c":"O"},{"x":0.592,"y":5.55,"c":"O"},{"x":0.594,"y":5.77,"c":"O"},{"x":0.596,"y":5.60,"c":"O"},{"x":0.598,"y":5.50,"c":"O"},{"x":0.600,"y":5.56,"c":"O"},
{"x":0.600,"y":5.67,"c":"O"},{"x":0.4480,"y":5.27,"c":"O"},{"x":0.4645,"y":5.364,"c":"O"},{"x":0.4202,"y":5.38,"c":"O"},{"x":0.4219,"y":5.42,"c":"O"},{"x":0.4424,"y":5.424,"c":"O"},{"x":0.5199,"y":5.336,"c":"O"},{"x":0.5297,"y":5.316,"c":"O"},{"x":0.5838,"y":5.28,"c":"O"},{"x":0.5898,"y":5.29,"c":"O"},
{"x":0.5882,"y":5.33,"c":"O"},{"x":0.5975,"y":5.40,"c":"O"},{"x":0.5463,"y":5.426,"c":"O"},{"x":0.5716,"y":5.44,"c":"O"},{"x":0.5600,"y":5.44,"c":"O"},{"x":0.4964,"y":5.45,"c":"O"},{"x":0.4985,"y":5.46,"c":"O"},{"x":0.4900,"y":5.46,"c":"O"},{"x":0.4680,"y":5.47,"c":"O"},{"x":0.4650,"y":5.49,"c":"O"},
{"x":0.4560,"y":5.49,"c":"O"},{"x":0.4580,"y":5.53,"c":"O"},{"x":0.4390,"y":5.53,"c":"O"},{"x":0.4350,"y":5.54,"c":"O"},{"x":0.4110,"y":5.53,"c":"O"},{"x":0.5140,"y":5.47,"c":"O"},{"x":0.5380,"y":5.46,"c":"O"},{"x":0.5520,"y":5.45,"c":"O"},{"x":0.5780,"y":5.44,"c":"O"},{"x":0.5920,"y":5.46,"c":"O"},{"x":0.5310,"y":5.47,"c":"O"},
{"x":0.4024,"y":5.655,"c":"A"},{"x":0.4024,"y":5.591,"c":"A"},{"x":0.4026,"y":5.54,"c":"A"},{"x":0.4035,"y":5.62,"c":"A"},{"x":0.4046,"y":5.60,"c":"A"},{"x":0.4106,"y":5.56,"c":"A"},{"x":0.4113,"y":5.675,"c":"A"},{"x":0.4160,"y":5.53,"c":"A"},{"x":0.4166,"y":5.50,"c":"A"},{"x":0.4186,"y":5.60,"c":"A"},
{"x":0.4219,"y":5.77,"c":"A"},{"x":0.4219,"y":5.73,"c":"A"},{"x":0.4230,"y":5.60,"c":"A"},{"x":0.4270,"y":5.62,"c":"A"},{"x":0.4292,"y":5.66,"c":"A"},{"x":0.4303,"y":5.66,"c":"A"},{"x":0.4325,"y":5.62,"c":"A"},{"x":0.4336,"y":5.57,"c":"A"},{"x":0.4347,"y":5.60,"c":"A"},{"x":0.4353,"y":5.75,"c":"A"},
{"x":0.4369,"y":5.66,"c":"A"},{"x":0.4386,"y":5.71,"c":"A"},{"x":0.4406,"y":5.66,"c":"A"},{"x":0.4417,"y":5.62,"c":"A"},{"x":0.4424,"y":5.60,"c":"A"},{"x":0.4430,"y":5.64,"c":"A"},{"x":0.4446,"y":5.73,"c":"A"},{"x":0.4479,"y":5.76,"c":"A"},{"x":0.4490,"y":5.67,"c":"A"},{"x":0.4512,"y":5.63,"c":"A"},
{"x":0.4524,"y":5.60,"c":"A"},{"x":0.4486,"y":5.57,"c":"A"},{"x":0.4512,"y":5.57,"c":"A"},{"x":0.4541,"y":5.57,"c":"A"},{"x":0.4563,"y":5.585,"c":"A"},{"x":0.4579,"y":5.60,"c":"A"},{"x":0.4601,"y":5.55,"c":"A"},{"x":0.4623,"y":5.56,"c":"A"},{"x":0.4650,"y":5.54,"c":"A"},{"x":0.4667,"y":5.53,"c":"A"},
{"x":0.4681,"y":5.57,"c":"A"},{"x":0.4700,"y":5.60,"c":"A"},{"x":0.4711,"y":5.63,"c":"A"},{"x":0.4722,"y":5.58,"c":"A"},{"x":0.4745,"y":5.535,"c":"A"},{"x":0.4762,"y":5.58,"c":"A"},{"x":0.4778,"y":5.66,"c":"A"},{"x":0.4793,"y":5.67,"c":"A"},{"x":0.4811,"y":5.67,"c":"A"},{"x":0.4833,"y":5.78,"c":"A"},
{"x":0.4844,"y":5.66,"c":"A"},{"x":0.4877,"y":5.63,"c":"A"},{"x":0.4895,"y":5.61,"c":"A"},{"x":0.4917,"y":5.65,"c":"A"},{"x":0.4932,"y":5.69,"c":"A"},{"x":0.4961,"y":5.72,"c":"A"},{"x":0.4977,"y":5.63,"c":"A"},{"x":0.4987,"y":5.58,"c":"A"},{"x":0.5009,"y":5.60,"c":"A"},{"x":0.5027,"y":5.66,"c":"A"},
{"x":0.5043,"y":5.63,"c":"A"},{"x":0.5065,"y":5.64,"c":"A"},{"x":0.5076,"y":5.58,"c":"A"},{"x":0.5098,"y":5.60,"c":"A"},{"x":0.5120,"y":5.54,"c":"A"},{"x":0.5131,"y":5.64,"c":"A"},{"x":0.5153,"y":5.57,"c":"A"},{"x":0.5175,"y":5.54,"c":"A"},{"x":0.5186,"y":5.64,"c":"A"},{"x":0.5208,"y":5.65,"c":"A"},
{"x":0.5226,"y":5.63,"c":"A"},{"x":0.5231,"y":5.55,"c":"A"},{"x":0.5253,"y":5.56,"c":"A"},{"x":0.5275,"y":5.46,"c":"A"},{"x":0.5297,"y":5.60,"c":"A"},{"x":0.5330,"y":5.63,"c":"A"},{"x":0.5341,"y":5.60,"c":"A"},{"x":0.5359,"y":5.51,"c":"A"},{"x":0.5385,"y":5.55,"c":"A"},{"x":0.5408,"y":5.58,"c":"A"},
{"x":0.5423,"y":5.64,"c":"A"},{"x":0.5441,"y":5.56,"c":"A"},{"x":0.5451,"y":5.52,"c":"A"},{"x":0.5465,"y":5.79,"c":"A"},{"x":0.5474,"y":5.65,"c":"A"},{"x":0.5518,"y":5.60,"c":"A"},{"x":0.5540,"y":5.66,"c":"A"},{"x":0.5562,"y":5.65,"c":"A"},{"x":0.5575,"y":5.69,"c":"A"},{"x":0.5584,"y":5.63,"c":"A"},
{"x":0.5595,"y":5.58,"c":"A"},{"x":0.5606,"y":5.65,"c":"A"},{"x":0.5617,"y":5.51,"c":"A"},{"x":0.5639,"y":5.54,"c":"A"},{"x":0.5633,"y":5.49,"c":"A"},{"x":0.5661,"y":5.53,"c":"A"},{"x":0.5684,"y":5.45,"c":"A"},{"x":0.5706,"y":5.49,"c":"A"},{"x":0.5728,"y":5.58,"c":"A"},{"x":0.5739,"y":5.66,"c":"A"},
{"x":0.5750,"y":5.60,"c":"A"},{"x":0.5761,"y":5.565,"c":"A"},{"x":0.5768,"y":5.525,"c":"A"},{"x":0.5806,"y":5.60,"c":"A"},{"x":0.5828,"y":5.57,"c":"A"},{"x":0.5850,"y":5.54,"c":"A"},{"x":0.5871,"y":5.72,"c":"A"},{"x":0.5893,"y":5.60,"c":"A"},{"x":0.5904,"y":5.53,"c":"A"},{"x":0.5926,"y":5.51,"c":"A"},
{"x":0.5948,"y":5.49,"c":"A"},{"x":0.5960,"y":5.54,"c":"A"},{"x":0.5978,"y":5.389,"c":"A"},{"x":0.6004,"y":5.64,"c":"A"},{"x":0.5993,"y":5.68,"c":"A"},{"x":0.5441,"y":6.417,"c":"A"},{"x":0.5518,"y":6.482,"c":"A"},{"x":0.5699,"y":6.345,"c":"A"},{"x":0.5838,"y":6.152,"c":"A"},
{"x":0.405,"y":5.64,"c":"A"},{"x":0.408,"y":5.58,"c":"A"},{"x":0.412,"y":5.62,"c":"A"},{"x":0.415,"y":5.59,"c":"A"},{"x":0.420,"y":5.65,"c":"A"},{"x":0.424,"y":5.58,"c":"A"},{"x":0.428,"y":5.60,"c":"A"},{"x":0.431,"y":5.68,"c":"A"},{"x":0.438,"y":5.59,"c":"A"},{"x":0.445,"y":5.61,"c":"A"},
{"x":0.456,"y":5.62,"c":"A"},{"x":0.461,"y":5.58,"c":"A"},{"x":0.466,"y":5.56,"c":"A"},{"x":0.473,"y":5.55,"c":"A"},{"x":0.479,"y":5.62,"c":"A"},{"x":0.486,"y":5.66,"c":"A"},{"x":0.490,"y":5.64,"c":"A"},{"x":0.494,"y":5.61,"c":"A"},{"x":0.503,"y":5.61,"c":"A"},{"x":0.511,"y":5.58,"c":"A"},
{"x":0.517,"y":5.61,"c":"A"},{"x":0.527,"y":5.59,"c":"A"},{"x":0.531,"y":5.64,"c":"A"},{"x":0.537,"y":5.58,"c":"A"},{"x":0.548,"y":5.62,"c":"A"},{"x":0.553,"y":5.56,"c":"A"},{"x":0.565,"y":5.60,"c":"A"},{"x":0.571,"y":5.55,"c":"A"},{"x":0.579,"y":5.62,"c":"A"},{"x":0.588,"y":5.67,"c":"A"},
{"x":0.592,"y":5.70,"c":"A"},{"x":0.596,"y":5.58,"c":"A"},{"x":0.5585,"y":5.53,"c":"A"},{"x":0.5395,"y":5.52,"c":"A"},{"x":0.5195,"y":5.62,"c":"A"},
{"x":0.4026,"y":5.81,"c":"B"},{"x":0.4064,"y":5.75,"c":"B"},{"x":0.4100,"y":5.73,"c":"B"},{"x":0.4153,"y":5.663,"c":"B"},{"x":0.4178,"y":5.745,"c":"B"},{"x":0.4189,"y":5.50,"c":"B"},{"x":0.4277,"y":5.667,"c":"B"},{"x":0.4366,"y":5.75,"c":"B"},{"x":0.4392,"y":5.76,"c":"B"},{"x":0.4387,"y":5.66,"c":"B"},
{"x":0.4412,"y":5.72,"c":"B"},{"x":0.4472,"y":5.80,"c":"B"},{"x":0.4488,"y":5.76,"c":"B"},{"x":0.4503,"y":5.745,"c":"B"},{"x":0.4533,"y":5.82,"c":"B"},{"x":0.4540,"y":5.76,"c":"B"},{"x":0.4555,"y":5.745,"c":"B"},{"x":0.4575,"y":5.72,"c":"B"},{"x":0.4613,"y":5.73,"c":"B"},{"x":0.4652,"y":5.745,"c":"B"},
{"x":0.4678,"y":5.675,"c":"B"},{"x":0.4711,"y":5.78,"c":"B"},{"x":0.4734,"y":5.75,"c":"B"},{"x":0.4756,"y":5.74,"c":"B"},{"x":0.4762,"y":5.72,"c":"B"},{"x":0.4778,"y":5.75,"c":"B"},{"x":0.4683,"y":5.665,"c":"B"},{"x":0.4700,"y":5.655,"c":"B"},{"x":0.4877,"y":5.76,"c":"B"},{"x":0.4899,"y":5.745,"c":"B"},
{"x":0.4910,"y":5.725,"c":"B"},{"x":0.4954,"y":5.74,"c":"B"},{"x":0.4965,"y":5.76,"c":"B"},{"x":0.4983,"y":5.70,"c":"B"},{"x":0.4998,"y":5.75,"c":"B"},{"x":0.5036,"y":5.72,"c":"B"},{"x":0.5076,"y":5.74,"c":"B"},{"x":0.5087,"y":5.70,"c":"B"},{"x":0.5116,"y":5.72,"c":"B"},{"x":0.5160,"y":5.71,"c":"B"},
{"x":0.5208,"y":5.72,"c":"B"},{"x":0.5249,"y":5.64,"c":"B"},{"x":0.5220,"y":5.61,"c":"B"},{"x":0.5236,"y":5.66,"c":"B"},{"x":0.5262,"y":5.61,"c":"B"},{"x":0.5297,"y":5.63,"c":"B"},{"x":0.5408,"y":5.71,"c":"B"},{"x":0.5419,"y":5.66,"c":"B"},{"x":0.5441,"y":5.64,"c":"B"},{"x":0.5485,"y":5.66,"c":"B"},
{"x":0.5507,"y":5.637,"c":"B"},{"x":0.5567,"y":5.71,"c":"B"},{"x":0.5600,"y":5.64,"c":"B"},{"x":0.5617,"y":5.63,"c":"B"},{"x":0.5633,"y":5.66,"c":"B"},{"x":0.5684,"y":5.74,"c":"B"},{"x":0.5706,"y":5.66,"c":"B"},{"x":0.5732,"y":5.62,"c":"B"},{"x":0.5766,"y":5.60,"c":"B"},{"x":0.5761,"y":5.575,"c":"B"},
{"x":0.5799,"y":5.64,"c":"B"},{"x":0.5843,"y":5.66,"c":"B"},{"x":0.5854,"y":5.56,"c":"B"},{"x":0.5876,"y":5.60,"c":"B"},{"x":0.5931,"y":5.65,"c":"B"},{"x":0.5953,"y":5.69,"c":"B"},{"x":0.5976,"y":5.60,"c":"B"},{"x":0.5962,"y":5.59,"c":"B"},{"x":0.4802,"y":6.05,"c":"B"},{"x":0.5999,"y":5.894,"c":"B"},
{"x":0.5823,"y":6.21,"c":"B"},{"x":0.5120,"y":6.13,"c":"B"},{"x":0.4920,"y":5.77,"c":"B"},{"x":0.5130,"y":5.74,"c":"B"},{"x":0.4605,"y":5.77,"c":"B"},{"x":0.4455,"y":5.78,"c":"B"},{"x":0.4420,"y":5.70,"c":"B"}
]
},
"hconcat":[
{
"width":331,"height":331,
"title":{"text":"System K","frame":"group","anchor":"middle","baseline":"alphabetic","offset":-8},
"resolve":{"axis":{"x":"independent","y":"independent"}},
"layer":[
{"data":{"values":[{"level":6.908}]},
"mark":{"type":"rule","strokeDash":[9,5],"strokeWidth":1.4,"color":"black","clip":true},
"encoding":{
"x":{"datum":0.3,"type":"quantitative","scale":{"domain":[0.3894,0.6098],"nice":false,"zero":false},"axis":{"orient":"bottom","labels":false,"ticks":false,"title":"fold","titleFontSize":15,"titleX":63.4,"titleY":67,"titleAlign":"left","titleBaseline":"alphabetic"}},
"x2":{"datum":0.7},
"y":{"field":"level","type":"quantitative","scale":{"domain":[5.2,7.19],"nice":false,"zero":false},"axis":{"orient":"left","labels":false,"ticks":false,"title":"10","titleFontSize":15,"titleX":-42.8,"titleY":233,"titleAngle":270,"titleAlign":"left","titleBaseline":"alphabetic"}}
}},
{"data":{"name":"K"},"transform":[{"filter":"datum.c=='O'"}],
"mark":{"type":"point","shape":"circle","filled":false,"stroke":"black","strokeWidth":1.1,"size":46,"opacity":1},
"encoding":{
"x":{"field":"x","type":"quantitative","scale":{"domain":[0.3894,0.6098],"nice":false,"zero":false},"axis":{"orient":"bottom","values":[0.4,0.45,0.5,0.55,0.6],"format":"~g","labelPadding":6,"title":"(folding probability)","titleX":94,"titleY":57,"titleAlign":"left","titleBaseline":"alphabetic"}},
"y":{"field":"y","type":"quantitative","scale":{"domain":[5.2,7.19],"nice":false,"zero":false},"axis":{"orient":"left","values":[5.5,6,6.5,7],"format":"~g","labelPadding":3,"title":"(folding time)","titleX":-52.8,"titleY":211,"titleAngle":270,"titleAlign":"left","titleBaseline":"alphabetic"}}
}},
{"data":{"name":"K"},"transform":[{"filter":"datum.c!='O'"}],
"mark":{"type":"circle","stroke":"black","strokeWidth":0.9,"size":46,"opacity":1},
"encoding":{
"x":{"field":"x","type":"quantitative","scale":{"domain":[0.3894,0.6098],"nice":false,"zero":false},"axis":{"orient":"bottom","labels":false,"ticks":false,"title":"P","titleX":49,"titleY":57,"titleAlign":"left","titleBaseline":"alphabetic"}},
"y":{"field":"y","type":"quantitative","scale":{"domain":[5.2,7.19],"nice":false,"zero":false},"axis":{"orient":"left","labels":false,"ticks":false,"title":"log","titleX":-52.8,"titleY":262,"titleAngle":270,"titleAlign":"left","titleBaseline":"alphabetic"}},
"fill":{"field":"c","type":"nominal","scale":{"domain":["A","B"],"range":["#ff0000","#0000ff"]},"legend":{"orient":"none","legendX":18,"legendY":10,"title":null,"symbolType":"circle","symbolSize":20,"symbolStrokeWidth":0,"symbolOpacity":1,"labelFontSize":18.6,"labelColor":"black","labelOffset":12,"rowPadding":-2.4,"padding":0,"labelExpr":"'Cluster ' + datum.label"}}
}}
]
},
{
"width":329,"height":331,
"title":{"text":"System S","frame":"group","anchor":"middle","baseline":"alphabetic","offset":-8},
"resolve":{"axis":{"x":"independent","y":"independent"}},
"layer":[
{"data":{"values":[{"level":6.439}]},
"mark":{"type":"rule","strokeDash":[9,5],"strokeWidth":1.4,"color":"black","clip":true},
"encoding":{
"x":{"datum":0.3,"type":"quantitative","scale":{"domain":[0.3905,0.6093],"nice":false,"zero":false},"axis":{"orient":"bottom","labels":false,"ticks":false,"title":"fold","titleFontSize":15,"titleX":64,"titleY":67,"titleAlign":"left","titleBaseline":"alphabetic"}},
"x2":{"datum":0.7},
"y":{"field":"level","type":"quantitative","scale":{"domain":[5.2,7.2],"nice":false,"zero":false},"axis":{"orient":"left","labels":false,"ticks":false,"title":"10","titleFontSize":15,"titleX":-42.8,"titleY":233,"titleAngle":270,"titleAlign":"left","titleBaseline":"alphabetic"}}
}},
{"data":{"name":"S"},"transform":[{"filter":"datum.c=='O'"}],
"mark":{"type":"point","shape":"circle","filled":false,"stroke":"black","strokeWidth":1.1,"size":46,"opacity":1},
"encoding":{
"x":{"field":"x","type":"quantitative","scale":{"domain":[0.3905,0.6093],"nice":false,"zero":false},"axis":{"orient":"bottom","values":[0.4,0.45,0.5,0.55,0.6],"format":"~g","labelPadding":6,"title":"(folding probability)","titleX":95,"titleY":57,"titleAlign":"left","titleBaseline":"alphabetic"}},
"y":{"field":"y","type":"quantitative","scale":{"domain":[5.2,7.2],"nice":false,"zero":false},"axis":{"orient":"left","values":[5.5,6,6.5,7],"format":"~g","labelPadding":3,"title":"(folding time)","titleX":-52.8,"titleY":211,"titleAngle":270,"titleAlign":"left","titleBaseline":"alphabetic"}}
}},
{"data":{"name":"S"},"transform":[{"filter":"datum.c!='O'"}],
"mark":{"type":"circle","stroke":"black","strokeWidth":0.9,"size":46,"opacity":1},
"encoding":{
"x":{"field":"x","type":"quantitative","scale":{"domain":[0.3905,0.6093],"nice":false,"zero":false},"axis":{"orient":"bottom","labels":false,"ticks":false,"title":"P","titleX":50,"titleY":57,"titleAlign":"left","titleBaseline":"alphabetic"}},
"y":{"field":"y","type":"quantitative","scale":{"domain":[5.2,7.2],"nice":false,"zero":false},"axis":{"orient":"left","labels":false,"ticks":false,"title":"log","titleX":-52.8,"titleY":262,"titleAngle":270,"titleAlign":"left","titleBaseline":"alphabetic"}},
"fill":{"field":"c","type":"nominal","scale":{"domain":["A","B"],"range":["#ff0000","#0000ff"]},"legend":{"orient":"none","legendX":18,"legendY":10,"title":null,"symbolType":"circle","symbolSize":20,"symbolStrokeWidth":0,"symbolOpacity":1,"labelFontSize":18.6,"labelColor":"black","labelOffset":12,"rowPadding":-2.4,"padding":0,"labelExpr":"'Cluster ' + datum.label"}}
}}
]
}
]
}
